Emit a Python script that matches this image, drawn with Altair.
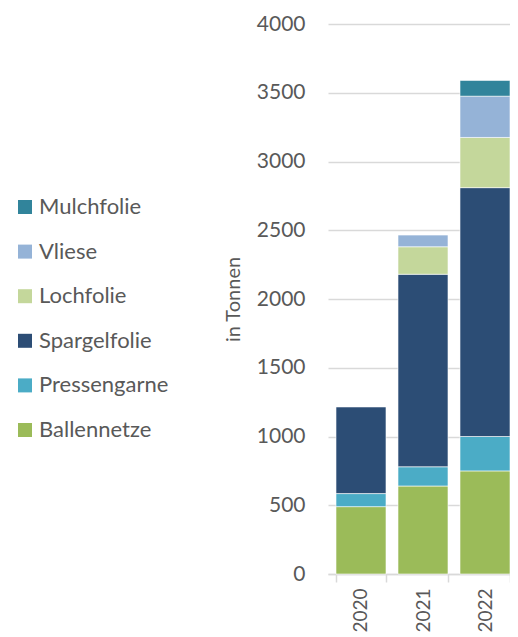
import altair as alt
import pandas as pd

years = ["2020", "2021", "2022"]
# series listed bottom-to-top of the stack
series = ["Ballennetze", "Pressengarne", "Spargelfolie", "Lochfolie", "Vliese", "Mulchfolie"]
colors = ["#9BBB59", "#4BACC6", "#2C4D75", "#C4D79B", "#95B3D7", "#31849B"]
ballennetze = [490, 640, 750]
pressengarne = [95, 140, 250]
spargelfolie = [630, 1400, 1810]
lochfolie = [0, 200, 365]
vliese = [0, 85, 300]
mulchfolie = [0, 0, 115]
y_ticks = [0, 500, 1000, 1500, 2000, 2500, 3000, 3500, 4000]

values = [ballennetze, pressengarne, spargelfolie, lochfolie, vliese, mulchfolie]
rows = []
for si, (name, vals) in enumerate(zip(series, values)):
    for yr, v in zip(years, vals):
        if v > 0:
            rows.append({"Jahr": yr, "Kategorie": name, "Wert": v, "ord": si})
df = pd.DataFrame(rows)

FONT = "Lato"
TXT = "#595959"
GRID = "#D9D9D9"

chart = (
    alt.Chart(df)
    .mark_bar(stroke="white", strokeWidth=0.6)
    .encode(
        x=alt.X(
            "Jahr:N",
            sort=years,
            title=None,
            scale=alt.Scale(range=[0, 190], paddingInner=0.1935, paddingOuter=0.129),
            axis=alt.Axis(
                labelAngle=270,
                labelFontSize=19,
                labelColor=TXT,
                labelFont=FONT,
                labelPadding=6,
                tickBand="extent",
                tickSize=8,
                tickColor=GRID,
                tickWidth=1.5,
                domainColor=GRID,
                domainWidth=1.5,
                grid=False,
            ),
        ),
        y=alt.Y(
            "Wert:Q",
            stack="zero",
            title="in Tonnen",
            scale=alt.Scale(domain=[0, 4000], nice=False),
            axis=alt.Axis(
                values=y_ticks,
                format="d",
                labelFontSize=21,
                labelColor=TXT,
                labelFont=FONT,
                labelPadding=23,
                ticks=False,
                domain=False,
                grid=True,
                gridColor=GRID,
                gridWidth=1.4,
                titleFont=FONT,
                titleFontSize=20,
                titleFontWeight="normal",
                titleColor=TXT,
                titlePadding=13,
            ),
        ),
        color=alt.Color(
            "Kategorie:N",
            scale=alt.Scale(domain=series[::-1], range=colors[::-1]),
            legend=alt.Legend(
                title=None,
                orient="none",
                legendX=-314,
                legendY=172,
                symbolType="square",
                symbolSize=196,
                symbolStrokeWidth=0,
                labelFontSize=22,
                labelFont=FONT,
                labelColor=TXT,
                labelOffset=3,
                rowPadding=22.6,
                padding=0,
            ),
        ),
        order=alt.Order("ord:Q", sort="ascending"),
    )
    .properties(
        width=182,
        height=550,
        background="white",
        autosize=alt.AutoSizeParams(type="none"),
        padding={"left": 320, "top": 16, "right": 0, "bottom": 60},
    )
    .configure_view(stroke="transparent", strokeWidth=0)
)

chart.save("out.html", embed_options={"renderer": "svg", "actions": False})
